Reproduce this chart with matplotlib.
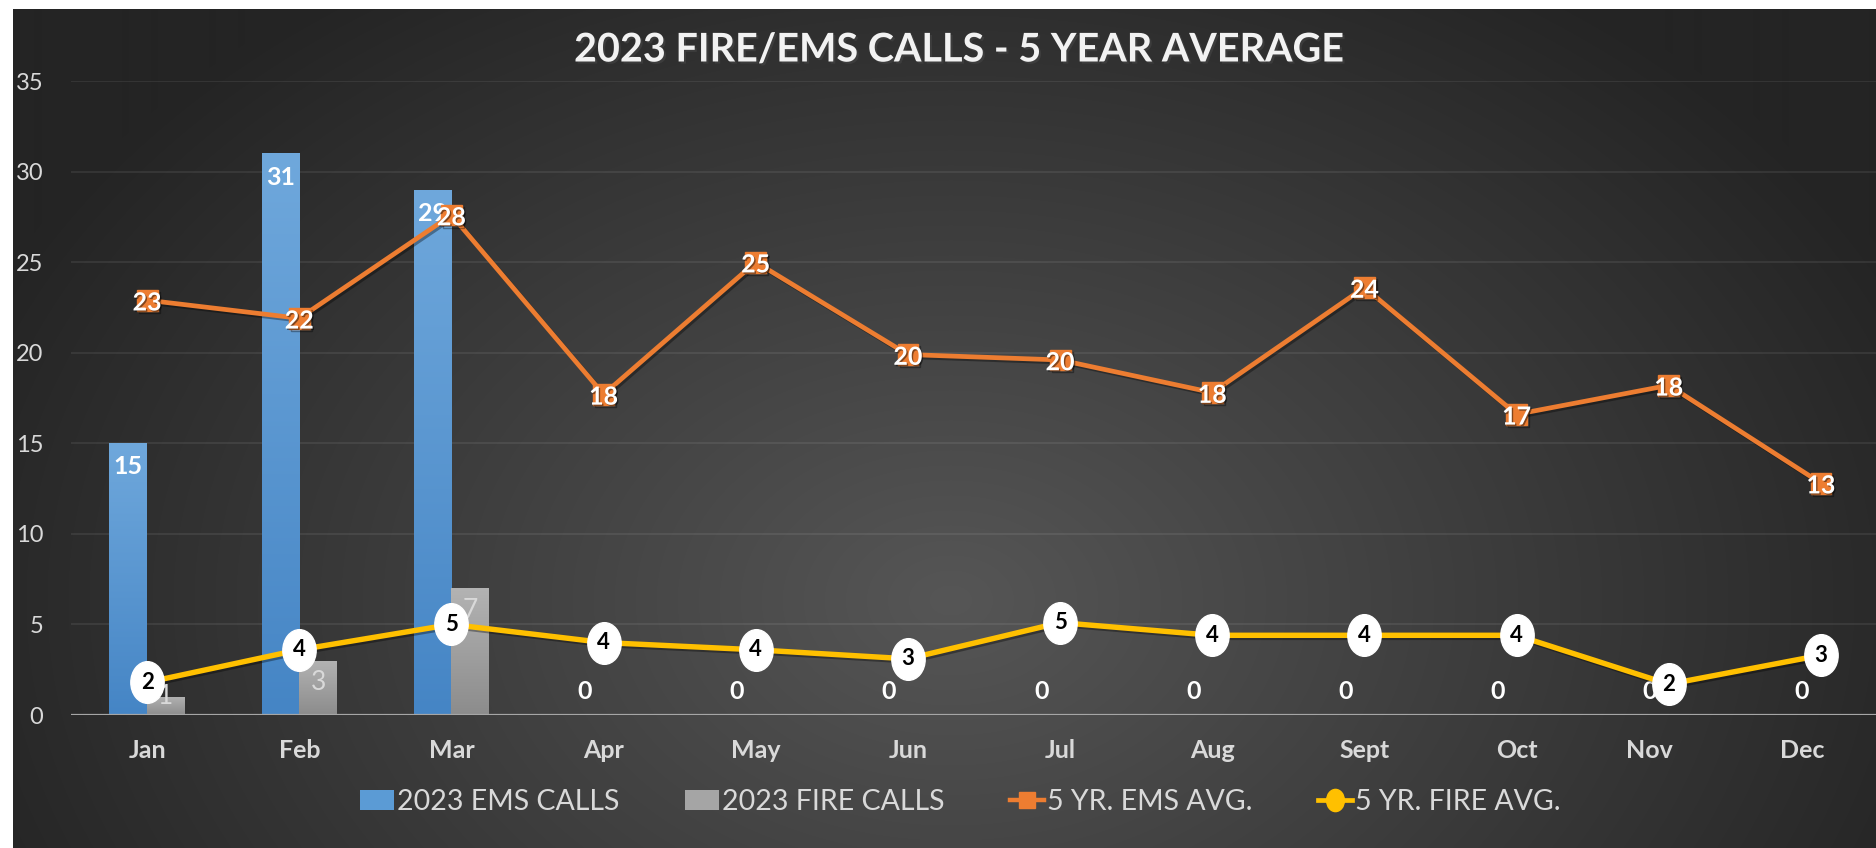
import numpy as np
import matplotlib
matplotlib.use("Agg")
import matplotlib.pyplot as plt
from matplotlib.path import Path
from matplotlib.transforms import Affine2D, ScaledTranslation
from matplotlib.lines import Line2D
from matplotlib.patches import Patch
from matplotlib.colors import LinearSegmentedColormap
import matplotlib.patheffects as pe

plt.rcParams['font.family'] = ['Lato', 'DejaVu Sans']

# ---------------- data ----------------
months = ['Jan', 'Feb', 'Mar', 'Apr', 'May', 'Jun', 'Jul', 'Aug', 'Sept', 'Oct', 'Nov', 'Dec']
ems_2023 = [15, 31, 29, 0, 0, 0, 0, 0, 0, 0, 0, 0]
fire_2023 = [1, 3, 7, np.nan, np.nan, np.nan, np.nan, np.nan, np.nan, np.nan, np.nan, np.nan]
ems_avg = [22.9, 21.9, 27.6, 17.7, 25.0, 19.9, 19.6, 17.8, 23.6, 16.6, 18.2, 12.8]
fire_avg = [1.8, 3.6, 5.0, 4.0, 3.6, 3.1, 5.1, 4.4, 4.4, 4.4, 1.7, 3.3]
series_names = ['2023 EMS CALLS', '2023 FIRE CALLS', '5 YR. EMS AVG.', '5 YR. FIRE AVG.']
title = '2023 FIRE/EMS CALLS - 5 YEAR AVERAGE'
yticks = [0, 5, 10, 15, 20, 25, 30, 35]

# ---------------- styling ----------------
W, H = 1876, 848
BLUE, GRAY, ORANGE, YELLOW = '#5b9bd5', '#a5a5a5', '#ed7d31', '#ffc000'
TXT = '#d9d9d9'

fig = plt.figure(figsize=(W / 100, H / 100), dpi=100)
fig.patch.set_facecolor('white')

# background radial gradient
bx0, by1 = 13, 9
bg = fig.add_axes([bx0 / W, 0, 1 - bx0 / W, 1 - by1 / H])
bg.axis('off')
yy, xx = np.mgrid[by1:H, bx0:W]
r = np.sqrt(((xx - 950) / 1050.0) ** 2 + ((yy - 600) / 750.0) ** 2)
val = (36 + 50 * np.clip(1 - r, 0, 1)) / 255.0
bg.imshow(np.dstack([val, val, val]), aspect='auto', extent=[0, 1, 0, 1], interpolation='bilinear')
bg.set_xlim(0, 1); bg.set_ylim(0, 1)

ax = fig.add_axes([71 / W, 133 / H, 1826 / W, 634 / H])
ax.patch.set_alpha(0)
for s in ax.spines.values():
    s.set_visible(False)

x = np.arange(len(months))
w = 0.248

fire_arr = np.array(fire_2023, dtype=float)
fire_mask = ~np.isnan(fire_arr)
b1 = ax.bar(x - w / 2, ems_2023, w, color=BLUE, zorder=2)
b2 = ax.bar(x[fire_mask] + w / 2, fire_arr[fire_mask], w, color=GRAY, zorder=2)

# gradient overlay on bars
cm_blue = LinearSegmentedColormap.from_list('b', ['#4585c5', '#6fa8dc'])
cm_gray = LinearSegmentedColormap.from_list('g', ['#8c8c8c', '#b3b3b3'])
grad = np.linspace(0, 1, 256).reshape(-1, 1)
for bars, cm in ((b1, cm_blue), (b2, cm_gray)):
    for p in bars:
        if p.get_height() > 0:
            x0, y0 = p.get_x(), p.get_y()
            im = ax.imshow(grad, cmap=cm, origin='lower', aspect='auto',
                           extent=[x0, x0 + p.get_width(), y0, y0 + p.get_height()], zorder=2.1)
            im.set_clip_path(p)

ax.set_xlim(-0.5, len(months) - 0.5)
ax.set_ylim(0, 35)

ax.grid(axis='y', color='white', alpha=0.09, lw=1.2, zorder=0)
ax.set_axisbelow(True)
ax.axhline(0, color='#a6a6a6', lw=1.6, zorder=3)

shadow_line = [pe.SimpleLineShadow(offset=(1.5, -1.5), alpha=0.35), pe.Normal()]
ax.plot(x, ems_avg, color=ORANGE, lw=3.4, marker='s', ms=15, mfc=ORANGE, mec=ORANGE,
        zorder=4, path_effects=shadow_line)

ell = Path.unit_circle().transformed(Affine2D().scale(0.8, 1.0))
ax.plot(x, fire_avg, color=YELLOW, lw=3.9, zorder=5, path_effects=shadow_line)
ax.plot(x, fire_avg, ls='none', marker=ell, ms=30, mfc='white', mec='white', zorder=6)

# data labels
txt_shadow = [pe.withSimplePatchShadow(offset=(1, -1), shadow_rgbFace='black', alpha=0.45)]
for i, v in enumerate(ems_2023):
    if v > 0:
        ax.annotate(f'{v}', (i - w / 2, v), xytext=(0, -17), textcoords='offset points',
                    ha='center', va='center', color='white', fontsize=18, fontweight='bold', zorder=3.5)
    else:
        ax.annotate(f'{v}', (i - w / 2, 0), xytext=(0, 17), textcoords='offset points',
                    ha='center', va='center', color='white', fontsize=18, fontweight='bold', zorder=3.5)
for i, v in enumerate(fire_2023):
    if not np.isnan(v):
        if v >= 2:
            ax.annotate(f'{int(v)}', (i + w / 2, v), xytext=(0, -16), textcoords='offset points',
                        ha='center', va='center', color=TXT, fontsize=19, zorder=3.5)
        else:
            ax.annotate(f'{int(v)}', (i + w / 2, 0), xytext=(0, 13), textcoords='offset points',
                        ha='center', va='center', color=TXT, fontsize=19, zorder=3.5)
for i, v in enumerate(ems_avg):
    ax.annotate(f'{round(v)}', (i, v), xytext=(0, -2), textcoords='offset points',
                ha='center', va='center', color='white', fontsize=18, fontweight='bold',
                zorder=4.5, path_effects=txt_shadow)
for i, v in enumerate(fire_avg):
    ax.annotate(f'{round(v)}', (i, v), xytext=(0, 0), textcoords='offset points',
                ha='center', va='center', color='black', fontsize=16, fontweight='bold', zorder=7)

# ticks
ax.set_xticks(x, months)
ax.set_yticks(yticks)
ax.tick_params(axis='x', length=0, pad=17, labelsize=18, labelcolor=TXT)
ax.tick_params(axis='y', length=0, pad=20, labelsize=17, labelcolor=TXT)
xlabels = ax.get_xticklabels()
for lab in xlabels:
    lab.set_fontweight('bold')
# last labels are pulled inward to stay inside the chart area
for lab in xlabels[-2:]:
    lab.set_transform(lab.get_transform() + ScaledTranslation(-0.19, 0, fig.dpi_scale_trans))

# title
fig.text(960 / W, 1 - 50 / H, title, ha='center', va='center', fontsize=28.5, fontweight='bold',
         color='#f2f2f2', path_effects=[pe.withSimplePatchShadow(offset=(1.5, -1.5), alpha=0.5)])

# legend
handles = [
    Patch(facecolor=BLUE),
    Patch(facecolor=GRAY),
    Line2D([], [], color=ORANGE, lw=3.2, marker='s', ms=12, mfc=ORANGE, mec=ORANGE),
    Line2D([], [], color=YELLOW, lw=3.4, marker=ell, ms=16, mfc=YELLOW, mec=YELLOW),
]
fig.legend(handles, series_names, loc='center', bbox_to_anchor=(0.512, 1 - 802 / H), ncol=4,
           frameon=False, fontsize=20.5, labelcolor=TXT, handlelength=1.2, handleheight=0.7,
           handletextpad=0.1, columnspacing=2.3)

fig.savefig('out.png', dpi=100, facecolor=fig.get_facecolor())
